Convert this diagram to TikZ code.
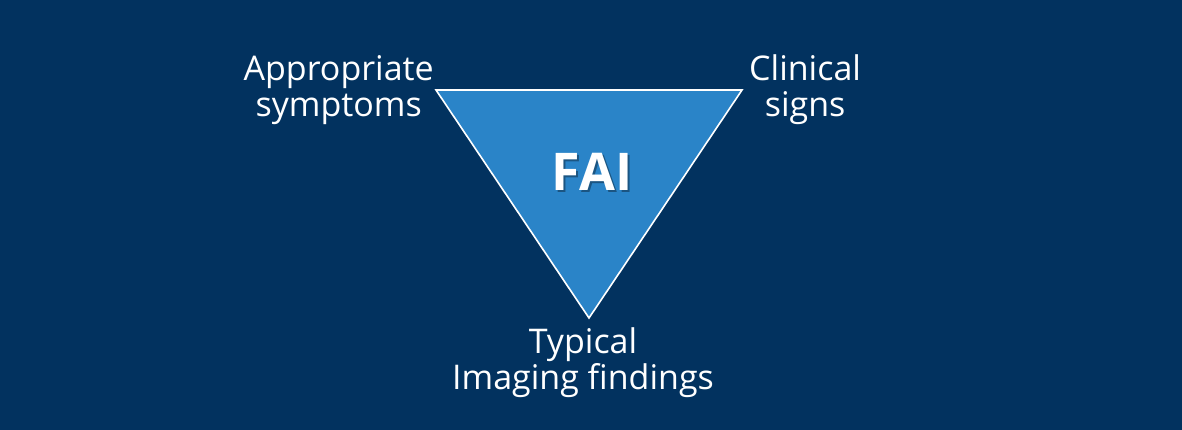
\documentclass[tikz,border=0pt]{standalone}
\usepackage{fontspec}
\setmainfont{Open Sans}
\usetikzlibrary{positioning}
\definecolor{navy}{HTML}{02325F}
\definecolor{faiblue}{HTML}{2A84C8}

\begin{document}
\begin{tikzpicture}[
	x=1pt, y=-1pt,
	Triangle/.style={draw=white,fill=faiblue,line width=1.6pt,line join=miter},
	Labels/.style={text=white,align=center,inner sep=0pt,font=\fontsize{34}{36}\selectfont},
	Title/.style={inner sep=0pt,font=\fontsize{52}{60}\selectfont\bfseries}
	]
	\fill[navy] (0,0) rectangle (1182,430);
	\useasboundingbox (0,0) rectangle (1182,430);
	
	% corners of the triangle
	\coordinate (TL) at (436,90);
	\coordinate (TR) at (742,90);
	\coordinate (B) at (589,318);
	
	\draw[Triangle] (TL) -- (TR) -- (B) -- cycle;
	
	% soft shadow behind the title
	\node[Title, text=black, opacity=0.35] (shadow) at (594,174) {FAI};
	\node[Title, text=white] (fai) at (592,172) {FAI};
	
	\node[Labels, left=2pt of TL] (symptoms) {Appropriate\\symptoms};
	\node[Labels, right=7pt of TR] (signs) {Clinical\\signs};
	\node[Labels, below=9pt of B, xshift=-6pt] (imaging) {Typical\\Imaging findings};
	
\end{tikzpicture}
\end{document}
